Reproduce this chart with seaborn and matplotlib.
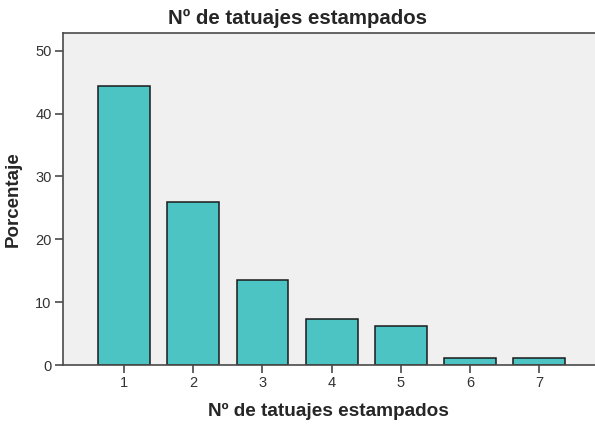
import pandas as pd
import seaborn as sns
import matplotlib.pyplot as plt

# data
categorias = ['1', '2', '3', '4', '5', '6', '7']
porcentaje = [44.4, 25.9, 13.6, 7.4, 6.2, 1.2, 1.2]

df = pd.DataFrame({'tatuajes': categorias, 'pct': porcentaje})

sns.set_style('ticks')
plt.rcParams['font.family'] = ['Liberation Sans', 'DejaVu Sans']

fig = plt.figure(figsize=(5.95, 4.28), dpi=100)
ax = fig.add_axes([0.1054, 0.1465, 0.8946, 0.7765])
ax.set_facecolor('#f0f0f0')

sns.barplot(data=df, x='tatuajes', y='pct', color='#4dc4c4', saturation=1,
            edgecolor='#1a1a1a', linewidth=1.1, width=0.75, ax=ax)

ax.set_ylim(0, 52.8)
ax.set_xlim(-0.89, 6.81)
ax.set_yticks([0, 10, 20, 30, 40, 50])

for s in ['left', 'bottom', 'top']:
    ax.spines[s].set_color('#4a4a4a')
    ax.spines[s].set_linewidth(1.2)
ax.spines['right'].set_visible(False)

ax.tick_params(axis='both', colors='#4a4a4a', labelcolor='#333333', labelsize=10.5,
               length=6, width=1.2, pad=2)

fig.suptitle('Nº de tatuajes estampados', x=0.5, y=0.98, va='top',
             fontsize=14.7, fontweight='bold')
ax.set_xlabel('Nº de tatuajes estampados', fontsize=13.7, fontweight='bold', labelpad=9)
ax.set_ylabel('Porcentaje', fontsize=13.5, fontweight='bold', labelpad=10)

fig.savefig('out.png', dpi=100)
